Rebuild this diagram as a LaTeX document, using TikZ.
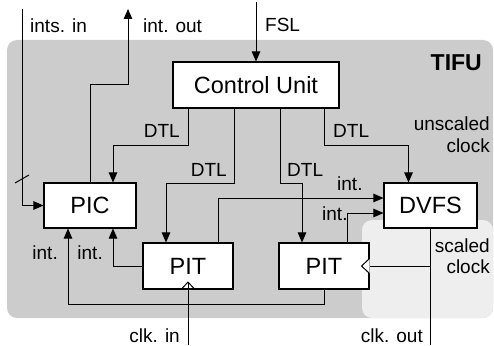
\documentclass[tikz,border=0pt]{standalone}
\usepackage{fontspec}
\setmainfont{Liberation Sans}
\usetikzlibrary{arrows.meta}
\definecolor{tifugray}{RGB}{204,204,204}
\definecolor{scaledgray}{RGB}{238,238,238}
\tikzset{
  unitbox/.style={draw, fill=white, line width=1.1pt, inner sep=0pt,
    font=\fontsize{23.5}{26}\selectfont},
  wire/.style={line width=1pt},
  arr/.style={wire, -{Triangle[length=10pt,width=8.5pt]}},
  lbl/.style={inner sep=0pt, font=\fontsize{19}{22}\selectfont},
}
\begin{document}
\begin{tikzpicture}[x=1pt, y=-1pt]
  \useasboundingbox (0,0) rectangle (494,345);

  % TIFU area and scaled-clock domain
  \fill[tifugray, rounded corners=10pt] (7,40) rectangle (493,318);
  \fill[scaledgray, rounded corners=10pt] (362,220) rectangle (493,318);

  % functional blocks
  \node[unitbox, minimum width=166pt, minimum height=46pt] (cu) at (256,85) {Control Unit};
  \node[unitbox, minimum width=92pt, minimum height=45pt] (pic) at (90,205.5) {PIC};
  \node[unitbox, minimum width=90pt, minimum height=46pt] (pitA) at (188,266) {PIT};
  \node[unitbox, minimum width=90pt, minimum height=46pt] (pitB) at (324,266) {PIT};
  \node[unitbox, minimum width=93pt, minimum height=45pt] (dvfs) at (430.5,205.5) {DVFS};

  % external ports
  \coordinate (intsin) at (22,9);
  \coordinate (intout) at (128,9);
  \coordinate (fsl) at (256,2);
  \coordinate (clkin) at (188,345);
  \coordinate (clkout) at (430.5,345);

  % interrupts in (bus) and out
  \draw[arr] (intsin) |- (pic.west);
  \draw[wire] (15,183) -- (29,175);
  \draw[arr] (pic.north) -- ++(0,-98) -| (intout);

  % FSL into the control unit
  \draw[arr] (fsl) -- (cu.north);

  % DTL links from the control unit
  \draw[arr] ([xshift=-68pt]cu.south) -- ++(0,37) -| ([xshift=23pt]pic.north);
  \draw[arr] ([xshift=-22pt]cu.south) -- ++(0,75) -| ([xshift=-22pt]pitA.north);
  \draw[arr] ([xshift=24pt]cu.south) -- ++(0,75) -| ([xshift=-22pt]pitB.north);
  \draw[arr] ([xshift=68pt]cu.south) -- ++(0,37) -| ([xshift=-22pt]dvfs.north);

  % timer interrupts
  \draw[arr] ([xshift=30pt]pitA.north) |- ([yshift=7.5pt]dvfs.west);
  \draw[arr] ([xshift=23pt]pitB.north) |- ([yshift=-7.5pt]dvfs.west);
  \draw[arr] (pitA.west) -| ([xshift=23pt]pic.south);
  \draw[arr] (pitB.south) -- ++(0,15) -| ([xshift=-22pt]pic.south);

  % clocks
  \draw[wire] (clkin) -- ([yshift=7.5pt]pitA.south);
  \draw[wire] ([xshift=-7pt]pitA.south) -- ([yshift=7.5pt]pitA.south) -- ([xshift=7pt]pitA.south);
  \draw[wire] (dvfs.south) -- (clkout);
  \draw[wire] (pitB.east) -- (pitB.east -| dvfs.south);
  \draw[wire, fill=white] ([yshift=7.5pt]pitB.east) -- ([xshift=-8pt]pitB.east) -- ([yshift=-7.5pt]pitB.east);

  % labels
  \node[lbl, anchor=base west] (l-intsin) at (30,33) {ints. in};
  \node[lbl, anchor=base west] (l-intout) at (143,33) {int. out};
  \node[lbl, anchor=base west] (l-fsl) at (265,32) {FSL};
  \node[inner sep=0pt, anchor=base east, font=\fontsize{23}{26}\selectfont\bfseries] (l-tifu) at (482,70) {TIFU};
  \node[lbl, anchor=base east] (l-dtl1) at (180,137) {DTL};
  \node[lbl, anchor=base east] (l-dtl2) at (227,176) {DTL};
  \node[lbl, anchor=base west] (l-dtl3) at (287,176) {DTL};
  \node[lbl, anchor=base west] (l-dtl4) at (333,137) {DTL};
  \node[lbl, anchor=base east] (l-unsc1) at (490,130) {unscaled};
  \node[lbl, anchor=base east] (l-unsc2) at (490,152) {clock};
  \node[lbl, anchor=base west] (l-int1) at (337,190) {int.};
  \node[lbl, anchor=base west] (l-int2) at (322,220) {int.};
  \node[lbl, anchor=base east] (l-sc1) at (490,252) {scaled};
  \node[lbl, anchor=base east] (l-sc2) at (490,273) {clock};
  \node[lbl, anchor=base east] (l-int3) at (58,259) {int.};
  \node[lbl, anchor=base east] (l-int4) at (103,259) {int.};
  \node[lbl, anchor=base east] (l-clkin) at (180,342) {clk. in};
  \node[lbl, anchor=base east] (l-clkout) at (423,342) {clk. out};
\end{tikzpicture}
\end{document}
